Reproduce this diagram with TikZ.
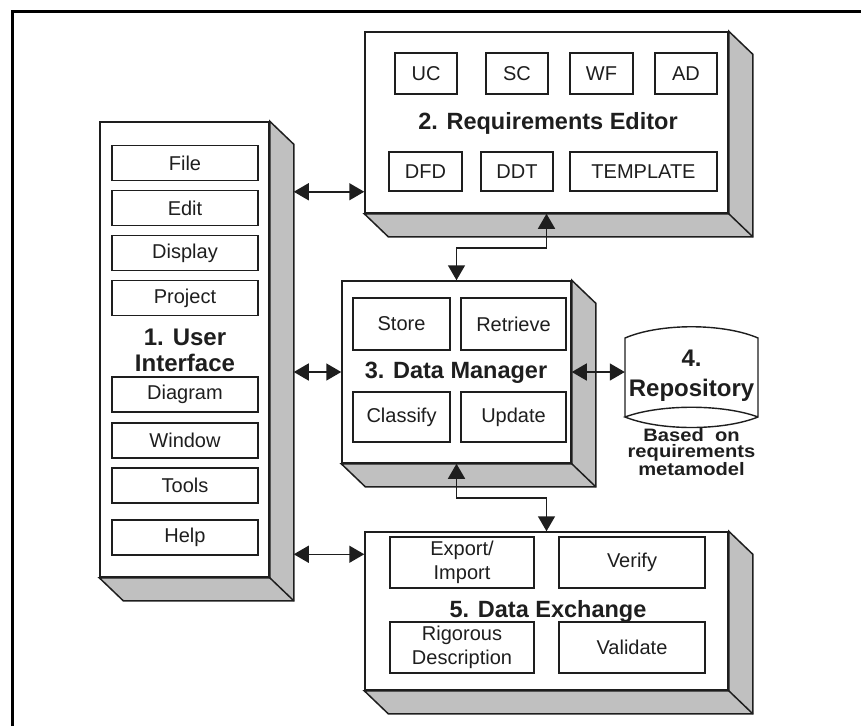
\documentclass[tikz,border=0pt]{standalone}
\usepackage{fontspec}
\setmainfont{Liberation Sans}
\usetikzlibrary{arrows.meta,calc}
\definecolor{shade}{HTML}{C0C0C0}
\definecolor{ink}{HTML}{1E1E1E}
\newcommand\mkshadow[1]{%
  \filldraw[shadowst] (#1.north east) -- ++(24,23) -- ($(#1.south east)+(24,23)$) -- ($(#1.south west)+(24,23)$) -- (#1.south west) -- (#1.south east) -- cycle;
  \draw[shadowst] (#1.south east) -- ++(24,23);}
\begin{document}
\begin{tikzpicture}[x=1pt,y=-1pt,
  front/.style={draw=ink, fill=white, line width=1.5pt, inner sep=0pt},
  shadowst/.style={draw=ink, fill=shade, line width=1.5pt, line join=miter},
  inbox/.style={draw=ink, fill=white, line width=1.3pt, inner sep=0pt, align=center, text=ink,
    font=\fontsize{20}{24}\selectfont},
  titlest/.style={text=ink, align=center, font=\bfseries\fontsize{23.5}{26}\selectfont},
  dbl/.style={draw=ink, line width=1.5pt, {Triangle[length=15pt,width=17pt]}-{Triangle[length=15pt,width=17pt]}},
  frame/.style={draw=black, line width=3pt}]
\useasboundingbox (0,0) rectangle (861,726);
\draw[frame] (12.5,726) -- (12.5,11) -- (861,11);

% 1. User Interface
\node[front, minimum width=169pt, minimum height=455pt] (ui) at (184.5,349.5) {};
\mkshadow{ui}
\foreach \nm/\tx/\yy in {file/File/163, edit/Edit/208, disp/Display/253, proj/Project/298,
  diag/Diagram/394.5, win/Window/440.5, tools/Tools/485.5, help/Help/537.5}{
  \node[inbox, minimum width=146pt, minimum height=35pt] (\nm) at (185,\yy) {\tx};
}
\node[titlest, font=\bfseries\fontsize{24}{26}\selectfont] (uit) at (185,350) {1. User\\Interface};

% 2. Requirements Editor
\node[front, minimum width=363pt, minimum height=181pt] (re) at (546.5,122.5) {};
\mkshadow{re}
\node[inbox, minimum width=62pt, minimum height=41pt] (uc) at (426,73.5) {UC};
\node[inbox, minimum width=62pt, minimum height=41pt] (sc) at (517,73.5) {SC};
\node[inbox, minimum width=63pt, minimum height=41pt] (wf) at (601.5,73.5) {WF};
\node[inbox, minimum width=62pt, minimum height=41pt] (ad) at (686,73.5) {AD};
\node[titlest] (ret) at (548,123) {2. Requirements Editor};
\node[inbox, minimum width=73pt, minimum height=39pt] (dfd) at (425.5,171.5) {DFD};
\node[inbox, minimum width=72pt, minimum height=39pt] (ddt) at (517,171.5) {DDT};
\node[inbox, minimum width=147pt, minimum height=39pt] (tpl) at (643.5,171.5) {TEMPLATE};

% 3. Data Manager
\node[front, minimum width=229pt, minimum height=182pt] (dm) at (456.5,372) {};
\mkshadow{dm}
\node[inbox, minimum width=97pt, minimum height=52pt] (store) at (401.5,324) {Store};
\node[inbox, minimum width=105pt, minimum height=52pt] (retr) at (513.5,324) {Retrieve};
\node[titlest] (dmt) at (456,373) {3. Data Manager};
\node[inbox, minimum width=97pt, minimum height=50pt] (class) at (401.5,417) {Classify};
\node[inbox, minimum width=105pt, minimum height=50pt] (upd) at (513.5,417) {Update};

% 4. Repository
\node[inner sep=0pt, minimum width=133pt, minimum height=100pt] (repo) at (691.5,378) {};
\draw[draw=ink, fill=white, line width=1.4pt] (625,417) -- (625,338)
  .. controls (660,323) and (723,323) .. (758,338) -- (758,417)
  .. controls (723,431) and (660,431) .. (625,417)
  .. controls (660,404) and (723,404) .. (758,417);
\node[titlest, font=\bfseries\fontsize{24}{30}\selectfont] (repot) at (691.5,376) {4.\\Repository};
\node[text=ink, align=center, font=\bfseries\fontsize{18}{16.5}\selectfont] (based) at (691.5,452)
  {\scalebox{1.12}[1]{Based\ \ on}\\\scalebox{1.12}[1]{requirements}\\\scalebox{1.12}[1]{metamodel}};

% 5. Data Exchange
\node[front, minimum width=363pt, minimum height=158pt] (de) at (546.5,611) {};
\mkshadow{de}
\node[inbox, minimum width=144pt, minimum height=51pt] (expo) at (462,562.5) {Export/\\Import};
\node[inbox, minimum width=146pt, minimum height=51pt] (ver) at (632,562.5) {Verify};
\node[titlest] (det) at (548,611) {5. Data Exchange};
\node[inbox, minimum width=144pt, minimum height=51pt] (rig) at (462,647.5) {Rigorous\\Description};
\node[inbox, minimum width=146pt, minimum height=51pt] (val) at (632,647.5) {Validate};

% connectors
\coordinate (uiside) at ([xshift=24pt]ui.north east);
\coordinate (rein) at ([yshift=22pt]re.south west);
\coordinate (dein) at ([yshift=-23pt]de.north west);
\draw[dbl] (rein -| uiside) -- (rein);
\draw[dbl] (dm.west -| uiside) -- (dm.west);
\draw[dbl] (dein -| uiside) -- (dein);
\draw[dbl] (re.south) -- ++(0,34) -| (dm.north);
\draw[dbl] (dm.south) -- ++(0,34) -| (de.north);
\draw[dbl] (dm.east) -- (dm.east -| repo.west);
\end{tikzpicture}
\end{document}
